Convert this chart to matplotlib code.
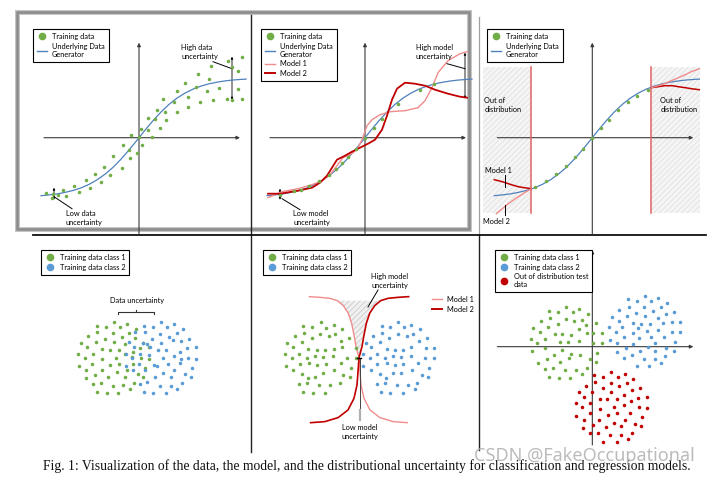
import matplotlib
matplotlib.use("Agg")
import matplotlib.pyplot as plt
from matplotlib.lines import Line2D
from matplotlib.patches import Rectangle, Polygon

# ---------------- data ----------------
# underlying data generator (regression panels)
GEN_X = [-98, -90, -82, -74, -66, -58, -50, -42, -34, -26, -18, -10, -2, 6, 14, 22, 30, 38, 46, 54, 62, 70, 78, 86, 94, 102, 107]
GEN_Y = [-58.0, -57.2, -56.2, -54.7, -52.8, -50.2, -46.7, -42.2, -36.5, -29.7, -21.5, -12.3, -2.5, 7.5, 17.0, 25.7, 33.3,
         39.6, 44.6, 48.6, 51.6, 53.9, 55.5, 56.8, 57.7, 58.3, 58.6]

# panel 1: noisy training data
P1_X = [-93, -87, -86, -81, -76, -73, -65, -60, -53, -49, -44, -38, -35, -29, -26, -17, -16, -10, -9, -2, -8, 0, 2, 3, 9, 9, 13,
        16, 18, 21, 24, 26, 27, 35, 38, 38, 46, 49, 49, 57, 59, 61, 68, 70, 72, 74, 80, 88, 89, 93, 93, 99, 99, 103, 103]
P1_Y = [-55, -60, -56, -57, -52, -58, -48, -54, -42, -50, -36, -44, -29, -37, -18, -30, -7, -12, -20, -15, 3, 1, 9, -7, 8, 20, 1,
        19, 28, 10, 39, 26, 18, 36, 47, 26, 55, 41, 31, 51, 64, 36, 47, 59, 72, 38, 50, 39, 77, 71, 38, 49, 67, 81, 39]

# panel 2: clean training data and two fitted models
P2_X = [-85, -71, -64, -56, -46, -36, -29, -23, -17, -9, 0, 9, 17, 33, 55, 69]
P2_Y = [-57, -53, -52, -48, -43, -37, -31, -25, -19, -11, 0, 10, 19, 34, 48, 54]
P2_M1_X = [-97, -83, -67, -53, -43, -35, -28, -22, -15, -8, -3, 2, 7, 15, 25, 40, 53, 60, 67, 73, 83, 95, 102]
P2_M1_Y = [-60, -54, -51, -47, -43, -37, -28, -20, -17, -12, -2, 12, 18, 23, 26, 27, 30, 37, 50, 65, 77, 84, 86]
P2_M2_X = [-97, -85, -67, -53, -45, -38, -33, -28, -20, -13, -5, 3, 10, 17, 22, 27, 32, 40, 50, 60, 70, 83, 95, 102]
P2_M2_Y = [-56, -56, -53, -50, -45, -38, -30, -22, -18, -14, -10, -6, -2, 8, 22, 38, 49, 55, 54, 52, 48, 44, 41, 40]

# panel 3: training data inside the distribution, model extrapolations outside
P3_X = [-57, -46, -36, -26, -17, -9, 0, 9, 17, 26, 36, 45, 56]
P3_Y = [-49, -43, -36, -28, -19, -11, 0, 10, 18, 28, 36, 42, 48]
P3_BOUNDS = [-61, 59]
P3_M1L_X = [-98, -90, -81, -74, -68, -61]
P3_M1L_Y = [-42, -44, -47, -49, -50, -51]
P3_M2L_X = [-96, -90, -84, -74, -66, -61]
P3_M2L_Y = [-76, -71, -66, -59, -54, -51]
P3_M2R_X = [59, 66, 72, 80, 86, 93, 99, 107]
P3_M2R_Y = [50, 51, 52, 52, 51, 50, 49, 48]
P3_M1R_X = [59, 66, 72, 79, 86, 93, 99, 107]
P3_M1R_Y = [50, 52, 54, 57, 60, 63, 66, 69]

# panel 4: overlapping classes
P4_GX = [132, 172, 80, 107, 151, 197, 82, 129, 178, 54, 104, 155, 196, 33, 77, 132, 166, 218, 50, 97, 120, 148, 190, 211, 238,
         24, 68, 166, 187, 44, 96, 138, 213, 238, 67, 119, 148, 188, 26, 49, 97, 172, 225, 76, 114, 140, 164, 203, 220, 48, 92,
         68, 128, 160, 193, 181, 80, 110, 145]
P4_GY = [233, 227, 222, 218, 218, 212, 203, 200, 200, 192, 184, 190, 185, 172, 175, 175, 169, 172, 159, 153, 150, 151, 145,
         155, 158, 138, 138, 138, 130, 127, 123, 127, 125, 123, 109, 104, 109, 109, 102, 91, 89, 91, 97, 76, 69, 84, 68, 77,
         69, 65, 51, 47, 43, 44, 52, 32, 25, 21, 22]
P4_BX = [273, 313, 222, 248, 292, 339, 196, 225, 270, 321, 230, 245, 296, 358, 178, 218, 272, 310, 334, 191, 241, 263, 288,
         330, 352, 379, 168, 209, 236, 311, 354, 379, 186, 279, 332, 208, 251, 293, 329, 168, 190, 261, 366, 224, 280, 313,
         345, 256, 304, 362, 210, 232, 270, 302, 336, 322, 221, 250, 287]
P4_BY = [233, 227, 222, 218, 218, 212, 203, 203, 198, 200, 168, 183, 190, 184, 175, 172, 171, 179, 178, 158, 158, 149, 149,
         145, 155, 158, 138, 138, 134, 131, 125, 124, 125, 127, 122, 109, 104, 109, 110, 102, 91, 103, 96, 89, 82, 89, 77,
         69, 68, 70, 48, 53, 43, 43, 52, 32, 25, 22, 22]

# panel 5: separated classes and two decision boundaries
P5_GX = [122, 70, 97, 139, 163, 186, 44, 72, 119, 146, 166, 95, 182, 207, 22, 66, 40, 85, 110, 136, 161, 185, 227, 14, 56,
         104, 128, 160, 201, 36, 81, 228, 18, 59, 87, 110, 137, 183, 214, 39, 162, 65, 104, 129, 188, 210, 84, 58, 80, 118,
         151, 181, 70, 98, 134]
P5_GY = [338, 327, 323, 322, 330, 317, 297, 307, 304, 297, 302, 290, 283, 290, 277, 278, 264, 258, 255, 255, 257, 263, 262,
         243, 243, 238, 233, 237, 230, 230, 230, 232, 208, 213, 215, 210, 213, 215, 202, 195, 195, 182, 175, 185, 180, 175,
         170, 153, 157, 150, 150, 157, 130, 127, 127]
P5_BX = [355, 330, 373, 393, 305, 420, 278, 307, 353, 380, 400, 327, 416, 441, 257, 300, 273, 320, 345, 370, 394, 437, 462,
         248, 290, 338, 362, 393, 436, 270, 316, 462, 250, 290, 320, 344, 369, 413, 448, 272, 397, 300, 338, 364, 427, 445,
         317, 290, 315, 352, 384, 410, 303, 330, 368, 404]
P5_BY = [338, 323, 323, 330, 327, 317, 297, 307, 304, 297, 302, 290, 283, 290, 277, 278, 264, 258, 255, 255, 263, 262, 262,
         243, 243, 238, 233, 237, 230, 230, 230, 232, 208, 213, 215, 210, 213, 215, 202, 195, 195, 182, 185, 185, 180, 175,
         170, 153, 157, 150, 150, 157, 130, 127, 127, 137]
P5_M1_X = [88, 120, 150, 172, 190, 205, 215, 222, 228, 237, 240, 243, 252, 270, 300, 340, 382]
P5_M1_Y = [415, 413, 410, 403, 388, 365, 335, 300, 265, 232, 190, 150, 110, 75, 52, 40, 37]
P5_M2_X = [386, 354, 324, 302, 284, 269, 259, 252, 246, 237, 234, 231, 222, 204, 174, 134, 92]
P5_M2_Y = [415, 413, 410, 403, 388, 365, 335, 300, 265, 232, 190, 150, 110, 75, 52, 40, 37]

# panel 6: two training classes and out-of-distribution test data
P6_GX = [-79, -129, -104, -59, -39, -12, -155, -127, -80, -54, -30, -104, -19, 10, -177, -133, -158, -113, -90, -64, -41,
         -17, 28, 1, -184, -142, -72, -40, 2, 28, -165, -96, -182, -143, -91, -115, -65, -38, 15, -162, -135, -96, -71, -8,
         12, -142, -119, -82, -49, -16, -31, -129, -101, -66]
P6_GY = [118, 108, 103, 103, 112, 97, 77, 87, 84, 77, 81, 69, 64, 70, 57, 60, 44, 39, 37, 36, 54, 40, 42, 40, 23, 23, 13,
         18, 10, 10, 12, 15, -13, -5, -10, -25, -22, -25, -18, -49, -38, -45, -35, -38, -45, -67, -63, -71, -71, -63, -83,
         -90, -93, -93]
P6_BX = [159, 197, 108, 134, 177, 224, 80, 109, 156, 205, 181, 131, 220, 245, 103, 58, 159, 196, 80, 123, 145, 172, 213,
         238, 264, 51, 90, 138, 165, 196, 238, 264, 70, 123, 215, 94, 139, 176, 54, 75, 101, 122, 166, 188, 248, 142, 189,
         220, 245, 75, 96, 120, 155, 187, 219, 135, 171, 207]
P6_BY = [152, 145, 142, 137, 137, 130, 110, 120, 118, 118, 108, 102, 98, 103, 93, 90, 92, 85, 77, 72, 68, 69, 70, 73, 75,
         58, 58, 57, 46, 50, 43, 43, 44, 40, 28, 29, 25, 30, 20, 10, -5, 8, -2, 11, 15, -13, -13, -5, -13, -17, -33, -26,
         -38, -38, -28, -59, -59, -50]
P6_RX = [6, 31, 57, 76, 97, 123, -20, 8, 31, 56, 80, 104, 144, -41, 0, 56, 118, -26, 22, 45, 73, 96, 136, 163, -50, -8,
         115, -32, 23, 64, 94, 139, 163, -7, 46, 73, 113, -48, 21, 98, 150, -26, 1, 40, 66, 87, 128, 147, -27, -8, 16, 53,
         85, 118, 106, 33, 73]
P6_RY = [-86, -90, -77, -90, -82, -97, -117, -106, -125, -109, -117, -110, -124, -137, -135, -135, -129, -150, -156, -158,
         -158, -145, -154, -152, -170, -170, -163, -182, -186, -182, -176, -182, -183, -200, -204, -198, -199, -207, -219,
         -219, -212, -219, -234, -240, -228, -239, -232, -239, -243, -260, -258, -265, -266, -258, -277, -285, -285]

LBL_TRAIN = "Training data"
LBL_GEN = "Underlying Data\nGenerator"
LBL_M1 = "Model 1"
LBL_M2 = "Model 2"
LBL_C1 = "Training data class 1"
LBL_C2 = "Training data class 2"
LBL_OOD = "Out of distribution test\ndata"
CAPTION = ("Fig. 1: Visualization of the data, the model, and the distributional uncertainty "
           "for classification and regression models.")
WATERMARK = "CSDN @FakeOccupational"

# ---------------- style ----------------
GREEN = "#70ad47"
BLUE_LINE = "#4f81bd"
BLUE_DOT = "#5b9bd5"
M1C = "#f08c8c"
M2C = "#c00000"
OODC = "#c00000"
AXC = "#3a3a3a"
VLC = "#e06262"
TS = 5.3
DOT = 6.5

plt.rcParams['font.family'] = ['Lato', 'DejaVu Sans']
plt.rcParams['hatch.linewidth'] = 0.5

W, H = 713, 479
fig = plt.figure(figsize=(W / 100, H / 100), dpi=100)
fig.patch.set_facecolor("white")

# decoration layer in pixel coordinates
deco = fig.add_axes([0, 0, 1, 1])
deco.set_xlim(0, W)
deco.set_ylim(H, 0)
deco.axis("off")
deco.add_patch(Rectangle((17, 12), 452, 217, fill=False, edgecolor="#c4c4c4", lw=3.6, zorder=1))
deco.add_patch(Rectangle((17, 12), 452, 217, fill=False, edgecolor="#8a8a8a", lw=1.8, zorder=2))
deco.plot([250.5, 250.5], [15, 452], color="#222222", lw=1.0)
deco.plot([479, 479], [17, 235], color="#a0a0a0", lw=0.9)
deco.plot([479, 479], [235, 450], color="#222222", lw=1.0)
deco.plot([33, 706], [235, 235], color="#111111", lw=1.3)
deco.text(367, 466, CAPTION, ha="center", va="center", fontsize=9.8, family="Liberation Serif", color="#111111")
deco.text(584, 456, WATERMARK, ha="center", va="center", fontsize=13, family="Noto Sans", color="#b4b4b4", alpha=0.9)


def make_panel(x0, y0, w, h, ox, oy, s=1.0):
    ax = fig.add_axes([x0 / W, 1 - (y0 + h) / H, w / W, h / H])
    ax.set_xlim((x0 - ox) * s, (x0 + w - ox) * s)
    ax.set_ylim((oy - y0 - h) * s, (oy - y0) * s)
    ax.axis("off")
    return ax


def arrow(ax, x0, y0, x1, y1, style="-|>", lw=0.8, color=AXC, ms=5):
    ax.annotate("", xy=(x1, y1), xytext=(x0, y0),
                arrowprops=dict(arrowstyle=style, lw=lw, color=color, mutation_scale=ms,
                                shrinkA=0, shrinkB=0), zorder=1)


def legend(handles, labels, x, y, frame=True):
    lg = fig.legend(handles, labels, loc="upper left", bbox_to_anchor=(x / W, 1 - y / H), fontsize=TS,
                    frameon=frame, fancybox=False, edgecolor="black", framealpha=1, borderpad=0.55,
                    handlelength=1.3, handletextpad=0.7, labelspacing=0.35, borderaxespad=0)
    if frame:
        lg.get_frame().set_linewidth(0.8)
    return lg


h_train = Line2D([], [], marker="o", ls="", color=GREEN, markersize=4.5)
h_gen = Line2D([], [], color=BLUE_LINE, lw=1.0)
h_m1 = Line2D([], [], color=M1C, lw=1.0)
h_m2 = Line2D([], [], color=M2C, lw=1.4)
h_c1 = Line2D([], [], marker="o", ls="", color=GREEN, markersize=4.5)
h_c2 = Line2D([], [], marker="o", ls="", color=BLUE_DOT, markersize=4.5)
h_ood = Line2D([], [], marker="o", ls="", color=OODC, markersize=4.5)


def reg_axes(ax):
    arrow(ax, -95, 0, 101, 0)
    arrow(ax, 0, -96, 0, 95)


# ---------------- panel 1: data uncertainty (regression) ----------------
ax1 = make_panel(20, 15, 228, 222, 139, 137.7)
reg_axes(ax1)
ax1.plot(GEN_X, GEN_Y, color=BLUE_LINE, lw=0.9, zorder=2)
ax1.scatter(P1_X, P1_Y, s=DOT, color=GREEN, lw=0, zorder=3)
arrow(ax1, 93, 38, 93, 81, style="<|-|>", lw=0.6, color="black", ms=3)
ax1.plot([74, 93], [76, 69], color="black", lw=0.7)
ax1.text(42, 86, "High data\nuncertainty", fontsize=TS, ha="left", va="center", linespacing=1.35)
arrow(ax1, -85, -50, -85, -62, style="<|-|>", lw=0.6, color="black", ms=3)
ax1.plot([-85, -67], [-59, -71], color="black", lw=0.7)
ax1.text(-73, -80, "Low data\nuncertainty", fontsize=TS, ha="left", va="center", linespacing=1.35)
legend([h_train, h_gen], [LBL_TRAIN, LBL_GEN], 33, 29)

# ---------------- panel 2: model uncertainty (regression) ----------------
ax2 = make_panel(253, 15, 222, 222, 365, 137.7)
reg_axes(ax2)
ax2.plot(GEN_X, GEN_Y, color=BLUE_LINE, lw=0.9, zorder=2)
ax2.plot(P2_M1_X, P2_M1_Y, color=M1C, lw=1.0, zorder=2)
ax2.plot(P2_M2_X, P2_M2_Y, color=M2C, lw=1.3, zorder=2)
ax2.scatter(P2_X, P2_Y, s=DOT, color=GREEN, lw=0, zorder=3)
arrow(ax2, 100, 39, 100, 85, style="<|-|>", lw=0.6, color="black", ms=3)
ax2.plot([82, 100], [74, 69], color="black", lw=0.7)
ax2.text(51, 86, "High model\nuncertainty", fontsize=TS, ha="left", va="center", linespacing=1.35)
arrow(ax2, -85, -51, -85, -62, style="<|-|>", lw=0.6, color="black", ms=3)
ax2.plot([-83, -65], [-61, -72], color="black", lw=0.7)
ax2.text(-72, -80, "Low model\nuncertainty", fontsize=TS, ha="left", va="center", linespacing=1.35)
legend([h_train, h_gen, h_m1, h_m2], [LBL_TRAIN, LBL_GEN, LBL_M1, LBL_M2], 261, 29)

# ---------------- panel 3: distributional uncertainty (regression) ----------------
ax3 = make_panel(481, 15, 228, 222, 592.3, 137.7)
for xa, xb in [(-109, P3_BOUNDS[0]), (P3_BOUNDS[1], 108)]:
    ax3.add_patch(Rectangle((xa, -75), xb - xa, 146, facecolor="#f5f5f5", edgecolor="#dddddd",
                            hatch="//////", lw=0, zorder=0))
reg_axes(ax3)
for xb in P3_BOUNDS:
    ax3.plot([xb, xb], [-75, 71], color=VLC, lw=1.1, zorder=2)
ax3.plot(GEN_X, GEN_Y, color=BLUE_LINE, lw=0.9, zorder=2)
ax3.plot(P3_M1L_X, P3_M1L_Y, color=M2C, lw=1.1, zorder=2)
ax3.plot(P3_M2L_X, P3_M2L_Y, color=M1C, lw=1.0, zorder=2)
ax3.plot(P3_M2R_X, P3_M2R_Y, color=M2C, lw=1.1, zorder=2)
ax3.plot(P3_M1R_X, P3_M1R_Y, color=M1C, lw=1.0, zorder=2)
ax3.scatter(P3_X, P3_Y, s=DOT, color=GREEN, lw=0, zorder=3)
ax3.text(-108, 33, "Out of\ndistribution", fontsize=TS, ha="left", va="center", linespacing=1.35)
ax3.text(68, 33, "Out of\ndistribution", fontsize=TS, ha="left", va="center", linespacing=1.35)
ax3.text(-107, -33, LBL_M1, fontsize=TS, ha="left", va="center")
ax3.text(-109, -84, LBL_M2, fontsize=TS, ha="left", va="center")
ax3.plot([-87, -87], [-37, -49], color="black", lw=0.7)
ax3.plot([-87, -87], [-67, -77], color="black", lw=0.7)
legend([h_train, h_gen], [LBL_TRAIN, LBL_GEN], 487, 29)

# ---------------- panel 4: data uncertainty (classification) ----------------
ax4 = make_panel(35, 240, 210, 200, 70, 400, 3)
ax4.scatter(P4_GX, P4_GY, s=DOT, color=GREEN, lw=0, zorder=3)
ax4.scatter(P4_BX, P4_BY, s=DOT, color=BLUE_DOT, lw=0, zorder=3)
ax4.plot([145, 145, 253, 253], [259, 265, 265, 259], color="#333333", lw=0.8)
ax4.plot([199, 199], [265, 270], color="#333333", lw=0.8)
ax4.text(201, 299, "Data uncertainty", fontsize=TS, ha="center", va="center")
legend([h_c1, h_c2], [LBL_C1, LBL_C2], 41, 250)

# ---------------- panel 5: model uncertainty (classification) ----------------
ax5 = make_panel(255, 240, 220, 210, 280, 435, 3)
hatch_pts = list(zip(P5_M1_X[3:10], P5_M1_Y[3:10])) + list(zip(P5_M2_X[3:9], P5_M2_Y[3:9]))[::-1]
ax5.add_patch(Polygon(hatch_pts, closed=True, facecolor="#f0f0f0", edgecolor="#c4c4c4", hatch="//////",
                      lw=0, zorder=0))
ax5.plot(P5_M1_X, P5_M1_Y, color=M1C, lw=1.0, zorder=2)
ax5.plot(P5_M2_X, P5_M2_Y, color=M2C, lw=1.2, zorder=2)
ax5.scatter(P5_GX, P5_GY, s=DOT, color=GREEN, lw=0, zorder=3)
ax5.scatter(P5_BX, P5_BY, s=DOT, color=BLUE_DOT, lw=0, zorder=3)
ax5.plot([240, 240], [228, 75], color="#444444", lw=0.7, zorder=2)
ax5.plot([240, 240], [75, 45], color="#b0b0b0", lw=1.6, zorder=2)
ax5.plot([230, 244], [232, 232], color="black", lw=1.0, zorder=4)
ax5.text(330, 463, "High model\nuncertainty", fontsize=TS, ha="center", va="center", linespacing=1.35)
ax5.plot([294, 264], [435, 384], color="black", lw=0.7, zorder=4)
ax5.text(240, 10, "Low model\nuncertainty", fontsize=TS, ha="center", va="center", linespacing=1.35)
legend([h_c1, h_c2], [LBL_C1, LBL_C2], 263, 250)
legend([h_m1, h_m2], [LBL_M1, LBL_M2], 428, 292, frame=False)

# ---------------- panel 6: distributional uncertainty (classification) ----------------
ax6 = make_panel(482, 240, 228, 210, 592.33, 346.67, 3)
arrow(ax6, -285, 0, 303, 0, ms=5)
arrow(ax6, 0, -295, 0, 290, ms=5)
ax6.scatter(P6_GX, P6_GY, s=DOT, color=GREEN, lw=0, zorder=3)
ax6.scatter(P6_BX, P6_BY, s=DOT, color=BLUE_DOT, lw=0, zorder=3)
ax6.scatter(P6_RX, P6_RY, s=DOT, color=OODC, lw=0, zorder=3)
legend([h_c1, h_c2, h_ood], [LBL_C1, LBL_C2, LBL_OOD], 495, 250)

fig.savefig("out.png", dpi=100, facecolor="white")
